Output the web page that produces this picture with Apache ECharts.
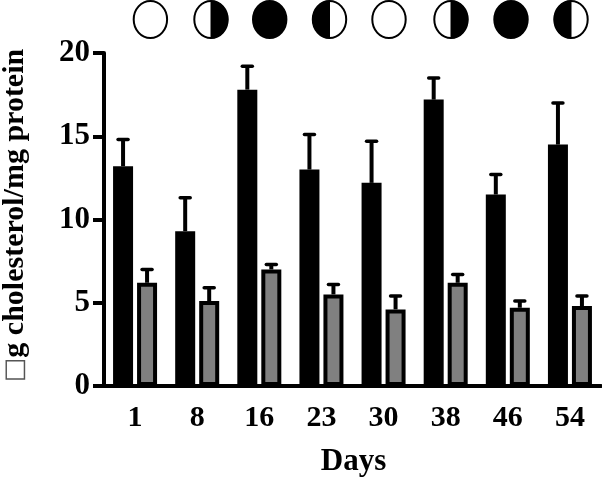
<!DOCTYPE html>
<html><head><meta charset="utf-8">
<style>html,body{margin:0;padding:0;background:#fff}#c{width:602px;height:478px}</style>
<script src="https://cdn.jsdelivr.net/npm/echarts@6/dist/echarts.min.js"></script>
</head><body><div id="c"></div>
<script>
const days = ['1','8','16','23','30','38','46','54'];
const blackMean = [13.2,9.3,17.8,13.0,12.2,17.2,11.5,14.5];
const blackTop  = [14.8,11.3,19.2,15.1,14.7,18.5,12.7,17.0];
const grayMean  = [6.2,5.1,7.0,5.5,4.6,6.2,4.7,4.8];
const grayTop   = [7.0,5.9,7.3,6.1,5.4,6.7,5.1,5.4];
const yTicks = [0,5,10,15,20];
// phase: which part of the disc is dark: 'none', 'right', 'all', 'left'
const moonPhases = ['none','right','all','left','none','right','all','left'];
const moonX = [150.4,211,269.7,329.5,389,451,511,571];

const serif = '"Liberation Serif", serif';
const chart = echarts.init(document.getElementById('c'), null, {renderer:'canvas'});

function errorSeries(name, tops, means, dx){
  return {
    type:'custom', name, z:1, silent:true,
    data: tops.map((t,i)=>[i,means[i],t]),
    encode:{x:0,y:[1,2]},
    renderItem(params, api){
      const lo = api.coord([api.value(0), api.value(1)]);
      const hi = api.coord([api.value(0), api.value(2)]);
      const x = lo[0]+dx;
      const st = {stroke:'#000', lineWidth:3.5, lineCap:'round'};
      return {type:'group', children:[
        {type:'line', shape:{x1:x,y1:lo[1],x2:x,y2:hi[1]}, style:{stroke:'#000',lineWidth:4}},
        {type:'line', shape:{x1:x-5,y1:hi[1],x2:x+5,y2:hi[1]}, style:st}
      ]};
    }
  };
}

function moonGraphics(){
  const out = [];
  const cy = 19.5, rx = 16.7, ry = 18.5;
  moonPhases.forEach((p,i)=>{
    const cx = moonX[i];
    out.push({type:'ellipse', shape:{cx,cy,rx,ry},
      style:{fill:p==='all'?'#000':'#fff', stroke:'#000', lineWidth:2}});
    if(p==='right'||p==='left'){
      const s = p==='right'?1:-1;
      const pts = [];
      for(let a=-90;a<=90;a+=6){
        const r=a*Math.PI/180;
        pts.push([cx+s*rx*Math.cos(r), cy+ry*Math.sin(r)]);
      }
      out.push({type:'polygon', shape:{points:pts}, style:{fill:'#000', stroke:'#000', lineWidth:1}});
    }
  });
  return out;
}

chart.setOption({
  animation:false,
  backgroundColor:'#fff',
  grid:{left:104,top:53,width:497,height:333,containLabel:false,outerBoundsMode:'none'},
  xAxis:{
    type:'category', data:days, name:'Days', nameLocation:'middle', nameGap:60,
    nameTextStyle:{fontFamily:serif,fontWeight:'bold',fontSize:31,color:'#000',padding:[0,0,0,2]},
    axisLine:{onZero:false,lineStyle:{color:'#000',width:4}},
    axisTick:{alignWithLabel:true,length:11,lineStyle:{color:'#000',width:4}},
    axisLabel:{fontFamily:serif,fontWeight:'bold',fontSize:30,color:'#000',margin:17,interval:0}
  },
  yAxis:{
    type:'value', min:yTicks[0], max:yTicks[yTicks.length-1], interval:yTicks[1]-yTicks[0],
    name:'{box|□}g cholesterol/mg protein', nameLocation:'middle', nameGap:74, nameRotate:90,
    nameTextStyle:{fontFamily:serif,fontWeight:'bold',fontSize:30,color:'#000',padding:[0,0,0,8],
      rich:{box:{fontFamily:'"DejaVu Sans"',fontWeight:'normal',fontSize:26,color:'#555'}}},
    splitLine:{show:false},
    axisLine:{show:true,lineStyle:{color:'#000',width:4}},
    axisTick:{show:true,length:11,lineStyle:{color:'#000',width:4}},
    axisLabel:{fontFamily:serif,fontWeight:'bold',fontSize:31,color:'#000',margin:14}
  },
  graphic:moonGraphics(),
  series:[
    {type:'bar',name:'black',data:blackMean,barWidth:20,barGap:'20%',z:2,itemStyle:{color:'#000'}},
    {type:'bar',name:'gray',data:grayMean,barWidth:20,barGap:'20%',z:2,
     itemStyle:{color:'#808080',borderColor:'#000',borderWidth:4}},
    errorSeries('black error',blackTop,blackMean,-12),
    errorSeries('gray error',grayTop,grayMean,12)
  ]
});
</script></body></html>
